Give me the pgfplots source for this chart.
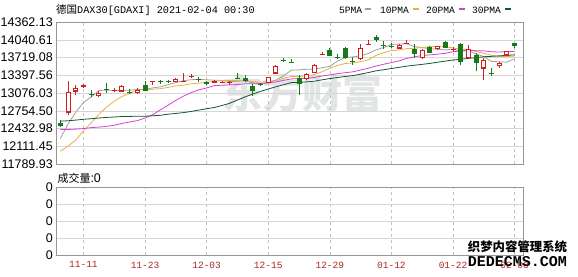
\documentclass[border=0pt]{standalone}
\usepackage{fontspec}
\setmainfont{Liberation Sans}
\newfontfamily\cjk{Noto Sans CJK SC}
\newfontfamily\mono{Liberation Mono}
\usepackage{pgfplots}
\pgfplotsset{compat=1.18}
\usepackage{pgfplotstable}

\definecolor{upred}{RGB}{210,30,30}
\definecolor{dngreen}{RGB}{25,120,25}
\definecolor{maA}{RGB}{160,160,160}
\definecolor{maB}{RGB}{232,176,64}
\definecolor{maC}{RGB}{214,64,214}
\definecolor{maD}{RGB}{25,85,50}
\definecolor{gridc}{RGB}{214,214,214}
\definecolor{vgridc}{RGB}{195,195,195}
\definecolor{framec}{RGB}{150,150,150}
\definecolor{ticklab}{RGB}{170,40,40}
\definecolor{wm}{RGB}{226,229,229}

\pgfplotstableread{
x o h l c
1 12727 13297 12685 13096
2 13110 13230 13032 13163
3 13200 13240 13165 13217
5 13035 13110 13000 13077
7 13125 13160 13100 13133
8 13112 13220 13100 13202
10 13080 13175 13060 13137
12 13285 13300 13230 13292
15 13290 13350 13270 13336
16 13285 13440 13275 13291
17 13375 13420 13340 13382
20 13275 13320 13260 13299
21 13262 13300 13250 13271
22 13272 13290 13230 13278
27 13263 13370 13250 13363
28 13433 13590 13420 13566
32 13330 13430 13320 13418
33 13445 13600 13430 13587
34 13780 13820 13760 13790
39 13693 13960 13680 13892
40 13960 14030 13940 13968
44 13891 13960 13880 13940
45 13980 14040 13960 13989
47 13714 13870 13700 13848
49 13879 13935 13860 13921
51 13865 13910 13840 13874
53 13716 13950 13700 13871
55 13523 13705 13320 13666
57 13573 13630 13530 13622
58 13757 13845 13740 13835
}\uptab

\pgfplotstableread{
x o h l c
0 12535 12594 12456 12480
4 13065 13130 13010 13053
6 13150 13260 13080 13139
9 13100 13140 13060 13087
11 13215 13300 13110 13127
13 13300 13310 13240 13290
14 13300 13320 13250 13287
18 13325 13360 13280 13313
19 13270 13300 13230 13253
23 13350 13430 13330 13340
24 13350 13400 13270 13296
25 13210 13240 13020 13114
26 13233 13260 13200 13223
29 13680 13710 13640 13667
30 13640 13700 13625 13631
31 13349 13400 13040 13246
35 13862 13900 13740 13761
36 13730 13780 13700 13719
37 13895 13910 13700 13727
38 13660 13720 13590 13651
41 14099 14130 14000 14050
42 13950 14020 13870 13937
43 13935 13990 13900 13925
46 13866 13958 13716 13788
48 13906 13930 13800 13815
50 13998 14020 13890 13907
52 13964 13990 13590 13644
54 13771 13800 13470 13620
56 13445 13520 13380 13433
59 13982 13990 13885 13934
}\dntab

\pgfplotstableread{
x m5 m10 m20 m30
0 12250 12021 12417 12566
1 12511 12113 12415 12573
2 12726 12222 12422 12585
3 12905 12388 12432 12600
4 13002 12534 12449 12610
5 13121 12686 12458 12623
6 13130 12821 12472 12634
7 13124 12925 12492 12641
8 13121 13013 12524 12650
9 13128 13065 12551 12652
10 13140 13130 12576 12655
11 13137 13134 12623 12654
12 13169 13146 12684 12664
13 13187 13154 12771 12672
14 13227 13177 12855 12692
15 13266 13203 12944 12706
16 13299 13218 13019 12721
17 13317 13243 13084 12742
18 13322 13254 13134 12767
19 13315 13271 13168 12791
20 13308 13287 13209 12813
21 13304 13301 13217 12849
22 13283 13300 13223 12890
23 13288 13305 13229 12949
24 13297 13306 13242 13006
25 13260 13284 13243 13057
26 13250 13277 13248 13105
27 13267 13275 13259 13148
28 13312 13300 13277 13189
29 13387 13342 13306 13226
30 13490 13375 13331 13264
31 13495 13372 13337 13269
32 13506 13386 13343 13278
33 13510 13411 13358 13290
34 13534 13461 13383 13315
35 13560 13525 13404 13337
36 13655 13575 13426 13357
37 13717 13611 13443 13376
38 13730 13620 13460 13391
39 13750 13642 13492 13418
40 13791 13676 13525 13446
41 13858 13756 13564 13477
42 13900 13808 13597 13498
43 13954 13842 13627 13519
44 13964 13857 13659 13541
45 13968 13880 13703 13563
46 13916 13887 13731 13579
47 13898 13899 13755 13595
48 13876 13915 13767 13612
49 13872 13918 13780 13634
50 13856 13912 13794 13654
51 13873 13894 13825 13674
52 13832 13865 13837 13687
53 13843 13860 13851 13704
54 13783 13828 13842 13715
55 13735 13795 13838 13733
56 13647 13760 13823 13740
57 13642 13737 13818 13749
58 13635 13739 13827 13758
59 13698 13741 13829 13767
}\matab

\begin{document}
\begin{tikzpicture}[x=1pt,y=1pt]
% watermark
\node[inner sep=0pt, text=wm] at (302,183) {\cjk\bfseries\fontsize{40}{40}\selectfont 东方财富};

\begin{axis}[
  at={(56pt,112pt)}, anchor=south west, scale only axis,
  width=467pt, height=142pt,
  xmin=-0.56, xmax=60.09,
  ymin=11789.93, ymax=14362.13,
  scaled y ticks=false, scaled x ticks=false,
  xtick={3,11,19,27,35,43,51,59}, xticklabels={},
  ytick={11789.93,12111.455,12432.98,12754.505,13076.03,13397.555,13719.08,14040.605,14362.13},
  yticklabels={11789.93,12111.45,12432.98,12754.50,13076.03,13397.56,13719.08,14040.61,14362.13},
  yticklabel style={font=\fontsize{12.5}{12.5}\selectfont, anchor=east, inner sep=0pt, xshift=-3pt, text=black},
  major tick length=0pt,
  xmajorgrids, ymajorgrids,
  x grid style={dash pattern=on 3pt off 3pt, color=vgridc},
  y grid style={color=gridc},
  axis line style={draw=framec},
  clip=true,
]
% moving averages
\addplot[maA, line width=0.8pt, mark=none] table[x=x, y=m5] {\matab};
\addplot[maB, line width=0.8pt, mark=none] table[x=x, y=m10] {\matab};
\addplot[maC, line width=0.8pt, mark=none] table[x=x, y=m20] {\matab};
\addplot[maD, line width=0.8pt, mark=none] table[x=x, y=m30] {\matab};
% wicks
\addplot[draw=none, mark=none, error bars/.cd, y dir=plus, y explicit, error mark=none,
  error bar style={line width=1pt, draw=upred, solid}]
  table[x=x, y=l, y error plus expr=\thisrow{h}-\thisrow{l}] {\uptab};
\addplot[draw=none, mark=none, error bars/.cd, y dir=plus, y explicit, error mark=none,
  error bar style={line width=1pt, draw=dngreen, solid}]
  table[x=x, y=l, y error plus expr=\thisrow{h}-\thisrow{l}] {\dntab};
% up bodies (hollow red)
\addplot[only marks, mark=-, mark size=2.5pt, mark options={draw=upred, line width=1pt, solid},
  error bars/.cd, y dir=plus, y explicit, error mark=none,
  error bar style={line width=5pt, draw=upred, solid}]
  table[x=x, y=o, y error plus expr=\thisrow{c}-\thisrow{o}] {\uptab};
\addplot[draw=none, mark=none, error bars/.cd, y dir=plus, y explicit, error mark=none,
  error bar style={line width=3pt, draw=white, solid}]
  table[x=x, y expr=\thisrow{o}+18, y error plus expr={max(\thisrow{c}-\thisrow{o}-36,0)}] {\uptab};
% down bodies (filled green)
\addplot[only marks, mark=-, mark size=2.5pt, mark options={draw=dngreen, line width=1pt, solid},
  error bars/.cd, y dir=plus, y explicit, error mark=none,
  error bar style={line width=5pt, draw=dngreen, solid}]
  table[x=x, y=c, y error plus expr=\thisrow{o}-\thisrow{c}] {\dntab};
\end{axis}

\begin{axis}[
  at={(56pt,21pt)}, anchor=south west, scale only axis,
  width=467pt, height=68.3pt,
  xmin=-0.56, xmax=60.09,
  ymin=0, ymax=4,
  scaled y ticks=false, scaled x ticks=false,
  xtick={3,11,19,27,35,43,51,59},
  xticklabels={11-11,11-23,12-03,12-15,12-29,01-12,01-22,02-03},
  xticklabel style={font=\mono\fontsize{9.5}{9.5}\selectfont, text=ticklab, anchor=north, inner sep=0pt, yshift=-6.5pt},
  ytick={0,1,2,3,4}, yticklabels={0,0,0,0,0},
  yticklabel style={font=\fontsize{12.5}{12.5}\selectfont, anchor=east, inner sep=0pt, xshift=-3pt, text=black},
  major tick length=0pt,
  xmajorgrids, ymajorgrids,
  x grid style={dash pattern=on 3pt off 3pt, color=vgridc},
  y grid style={color=gridc},
  axis line style={draw=framec},
]
\addplot[draw=none, mark=none] coordinates {(0,0)};
\end{axis}

% title
\node[anchor=base west, inner sep=0pt] at (56,262.5)
  {{\cjk\fontsize{10.5}{10.5}\selectfont 德国}{\mono\fontsize{10.2}{10.2}\selectfont DAX30[GDAXI] 2021-02-04 00:30}};
% legend
\node[anchor=base west, inner sep=0pt] at (339,262.7) {\mono\fontsize{9.6}{9.6}\selectfont 5PMA};
\fill[maA] (365,266) rectangle (371,268);
\node[anchor=base west, inner sep=0pt] at (380,262.7) {\mono\fontsize{9.6}{9.6}\selectfont 10PMA};
\fill[maB] (413,266) rectangle (419,268);
\node[anchor=base west, inner sep=0pt] at (426,262.7) {\mono\fontsize{9.6}{9.6}\selectfont 20PMA};
\fill[maC] (459,266) rectangle (465,268);
\node[anchor=base west, inner sep=0pt] at (472,262.7) {\mono\fontsize{9.6}{9.6}\selectfont 30PMA};
\fill[maD] (505,266) rectangle (511,268);
% volume title
\node[anchor=base west, inner sep=0pt] at (57.3,93.7)
  {{\cjk\fontsize{11}{11}\selectfont 成交量}{\fontsize{12.5}{12.5}\selectfont :0}};
% site overlay
\node[anchor=base, inner sep=0pt] at (517.5,25) {\cjk\bfseries\fontsize{12.4}{12.4}\selectfont 织梦内容管理系统};
\node[anchor=base, inner sep=0pt] at (517.5,10) {\mono\bfseries\fontsize{15}{15}\selectfont DEDECMS.COM};

\pgfresetboundingbox
\path (0,0) rectangle (578,276);
\end{tikzpicture}
\end{document}
